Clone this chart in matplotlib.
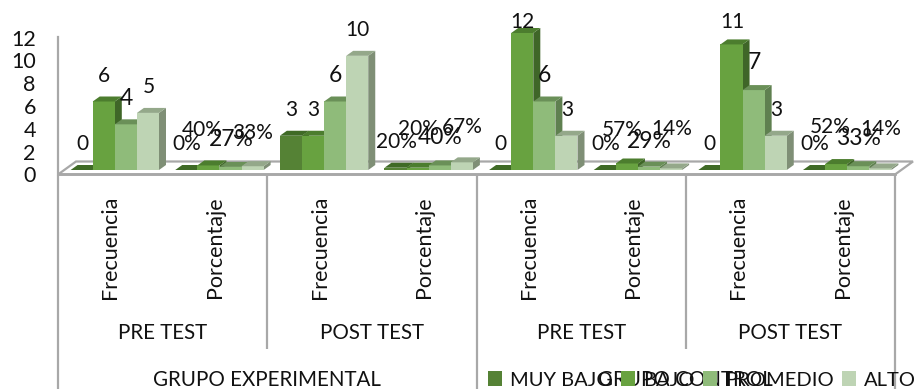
import matplotlib
matplotlib.use('Agg')
import matplotlib.pyplot as plt
from matplotlib.patches import Polygon

plt.rcParams['font.family'] = ['Lato', 'DejaVu Sans']

W, H = 918, 389

categorias = ['Frecuencia', 'Porcentaje'] * 4
pruebas = ['PRE TEST', 'POST TEST', 'PRE TEST', 'POST TEST']
grupos = ['GRUPO EXPERIMENTAL', 'GRUPO CONTROL']
niveles = ['MUY BAJO', 'BAJO', 'PROMEDIO', 'ALTO']

muy_bajo = [0, 0.00, 3, 0.20, 0, 0.00, 0, 0.00]
bajo = [6, 0.40, 3, 0.20, 12, 0.57, 11, 0.52]
promedio = [4, 0.27, 6, 0.40, 6, 0.29, 7, 0.33]
alto = [5, 0.33, 10, 0.67, 3, 0.14, 3, 0.14]
series = [muy_bajo, bajo, promedio, alto]

# front, top, side
c_front = ['#558235', '#68a240', '#8fbb7a', '#bed4b4']
c_top = ['#3f6a26', '#4c7d2e', '#6a9058', '#94a88a']
c_side = ['#3f6628', '#3f6628', '#5f8050', '#7f8f76']
gris = '#a8a8a8'

# nudges in px for the labels that do not sit at the usual height
nudge_y = [[0, 0, 0, 0], [0, 10, 2, 8], [0, 0, 0, 0], [0, 13, 2, 10],
           [0, -14, 1, 0], [0, 8, 0, 14], [0, -3, 2, 0], [0, 12, 2, 14]]
nudge_x = [[0, 0, 0, 0], [0, -7, 0, 0], [0, 0, 0, 0], [0, 0, 0, 0],
           [0, 0, 0, 0], [0, -5, 0, 0], [0, 0, 0, 0], [0, -6, 0, 0]]

fig = plt.figure(figsize=(W / 100, H / 100), dpi=100)

x0, x1, y0, y12 = 58, 895, 174.5, 37.5
ax = fig.add_axes([x0 / W, 1 - y0 / H, (x1 - x0) / W, (y0 - y12) / H])
ax.set_xlim(0, 8)
ax.set_ylim(0, 12)
px_x = 8 / (x1 - x0)
px_y = 12 / (y0 - y12)

for s in ax.spines.values():
    s.set_visible(False)
ax.set_xticks([])
ax.set_yticks(range(0, 13, 2))
ax.tick_params(axis='y', length=0, pad=16, labelsize=15.5, labelcolor='#111111')

# floor and left wall
ax.add_patch(Polygon([(0, 0), (8, 0), (8 + 18 * px_x, 13 * px_y), (18 * px_x, 13 * px_y)],
                     closed=True, fc='white', ec=gris, lw=1.6, clip_on=False, zorder=1))
ax.plot([0, 0], [0, 12], color=gris, lw=1.6, clip_on=False, zorder=1)
ax.plot([0, 8], [0, 0], color=gris, lw=2, clip_on=False, zorder=1)

ancho = 22.1 * px_x
margen = 12.6 * px_x
base = 4.5 * px_y
dx, dy = 7 * px_x, 5 * px_y

barras = []
for j, vals in enumerate(series):
    xs = [i + margen + j * ancho for i in range(8)]
    z = 3 + j
    b = ax.bar(xs, vals, ancho, bottom=base, align='edge', color=c_front[j],
               label=niveles[j], zorder=z, clip_on=False)
    barras.append(b)
    for xb, v in zip(xs, vals):
        t = base + v
        ax.add_patch(Polygon([(xb, t), (xb + ancho, t), (xb + ancho + dx, t + dy), (xb + dx, t + dy)],
                             closed=True, fc=c_top[j], ec='none', zorder=z, clip_on=False))
        ax.add_patch(Polygon([(xb + ancho, base), (xb + ancho + dx, base + dy),
                              (xb + ancho + dx, t + dy), (xb + ancho, t)],
                             closed=True, fc=c_side[j], ec='none', zorder=z - 0.5, clip_on=False))

# value labels
for i in range(8):
    for j, vals in enumerate(series):
        v = vals[i]
        txt = str(v) if i % 2 == 0 else '%d%%' % round(v * 100)
        xb = i + margen + (j + 0.5) * ancho
        size = 16.5 if j == 2 else 15
        ax.annotate(txt, (xb, base + v),
                    xytext=((0.5 + nudge_x[i][j]) * 0.72, (25.5 + nudge_y[i][j]) * 0.72),
                    textcoords='offset points', ha='center', va='center',
                    fontsize=size, color='#111111', zorder=20, annotation_clip=False)

# multi-level category axis underneath
tabla = fig.add_axes([x0 / W, 0, (x1 - x0) / W, (H - y0) / H])
tabla.set_xlim(0, 8)
tabla.set_ylim(H, y0)
tabla.axis('off')
tabla.vlines([0, 4, 8], y0, H, color=gris, lw=1.6, clip_on=False)
tabla.vlines([2, 6], y0, 349, color=gris, lw=1.6, clip_on=False)
for i, c in enumerate(categorias):
    tabla.text(i + 0.5, 247, c, rotation=90, ha='center', va='center', fontsize=15.5, color='#111111')
for i, p in enumerate(pruebas):
    tabla.text(2 * i + 1, 333, p, ha='center', va='center', fontsize=14.8, color='#111111')
for i, g in enumerate(grupos):
    tabla.text(4 * i + 2, 380, g, ha='center', va='center', fontsize=14.8, color='#111111')

fig.legend(handles=barras, labels=niveles, ncol=4, loc='center left',
           bbox_to_anchor=(488 / W, 1 - 380 / H), frameon=False, fontsize=14.5,
           handlelength=0.7, handleheight=0.7, handletextpad=0.4, columnspacing=0.4,
           borderpad=0, borderaxespad=0, labelcolor='#111111')

fig.savefig('out.png', dpi=100)
